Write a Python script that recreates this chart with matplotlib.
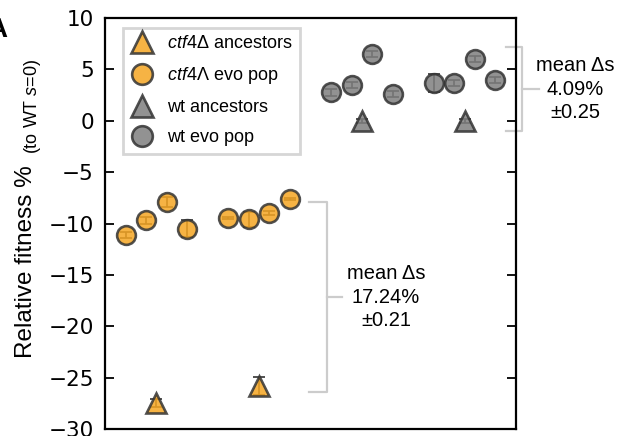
import numpy as np
import matplotlib
matplotlib.use("Agg")
import matplotlib.pyplot as plt

plt.rcParams['mathtext.fontset'] = 'custom'
plt.rcParams['mathtext.rm'] = 'Liberation Sans'
plt.rcParams['mathtext.it'] = 'Liberation Sans:italic'

# relative fitness (%) of replicate populations, two clones each, 4 pops per clone
ctf4_evo = [-11.1, -9.7, -7.9, -10.5, -9.5, -9.6, -9.0, -7.65]
ctf4_evo_err = [0.3, 0.3, 0.5, 0.8, 0.1, 0.7, 0.2, 0.1]
ctf4_anc = [-27.5, -25.8]
ctf4_anc_err = [0.4, 0.9]

wt_evo = [2.75, 3.5, 6.5, 2.6, 3.65, 3.7, 6.0, 4.0]
wt_evo_err = [0.3, 0.3, 0.3, 0.3, 0.9, 0.3, 0.3, 0.3]
wt_anc = [0.0, 0.0]
wt_anc_err = [0.2, 0.2]

mean_ds = ["17.24%", "4.09%"]
mean_ds_err = ["±0.21", "±0.25"]

orange = '#f5a623'
grey = '#7f7f7f'
edge = '#333333'

# x slots: pops 1-4 / 6-9 for ctf4, 11-14 / 16-19 for wt; ancestors centred under their pops
pop_x = np.array([1, 2, 3, 4, 6, 7, 8, 9])
anc_x = np.array([2.5, 7.5])

fig = plt.figure(figsize=(6.19, 4.36), dpi=100)
ax = fig.add_axes([105 / 619, 7 / 436, 411 / 619, 411 / 436])


def draw(x, y, err, color, marker, label, ms):
    ax.errorbar(x, y, yerr=err, fmt='none', ecolor=edge, elinewidth=1.2,
                capsize=4, capthick=1.2, zorder=2)
    ax.plot(x, y, marker, ms=ms, mfc=color, mec=edge, mew=1.9, alpha=0.85,
            label=label, zorder=3)


draw(anc_x, ctf4_anc, ctf4_anc_err, orange, '^', r'$\mathit{ctf4}$Δ ancestors', 14)
draw(pop_x, ctf4_evo, ctf4_evo_err, orange, 'o', r'$\mathit{ctf4}$Λ evo pop', 13.5)
draw(anc_x + 10, wt_anc, wt_anc_err, grey, '^', 'wt ancestors', 14)
draw(pop_x + 10, wt_evo, wt_evo_err, grey, 'o', 'wt evo pop', 13.5)

ax.set_xlim(0, 20)
ax.set_ylim(-30, 10)
ax.set_xticks([])
ax.set_yticks(np.arange(-30, 11, 5))
ax.tick_params(axis='y', direction='in', length=6.5, width=1.3, labelsize=15.5,
               pad=8, right=True)
for s in ax.spines.values():
    s.set_linewidth(1.6)

leg = ax.legend(loc='upper left', bbox_to_anchor=(0.044, 0.976), borderaxespad=0,
                numpoints=1, fancybox=False, handlelength=1.2, handletextpad=0.8,
                labelspacing=0.72, borderpad=0.42, markerscale=1.1,
                prop={'family': 'Liberation Sans', 'size': 13})
leg.get_frame().set_edgecolor('#cccccc')
leg.get_frame().set_linewidth(2)

# brackets with the mean change in fitness
brackets = [(-7.94, -26.44, 9.95, 10.81, 11.55, 13.67),
            (7.18, -1.0, 19.5, 20.3, 21.1, 22.9)]
for (top, bot, x0, x1, x2, xt), val, err in zip(brackets, mean_ds, mean_ds_err):
    mid = (top + bot) / 2
    ax.plot([x0, x1, x1, x0], [top, top, bot, bot], color='#cccccc', lw=1.6,
            clip_on=False, zorder=1)
    ax.plot([x1, x2], [mid, mid], color='#cccccc', lw=1.6, clip_on=False, zorder=1)
    ax.text(xt, mid, 'mean Δs\n' + val + '\n' + err, ha='center', va='center',
            family='Liberation Sans', fontsize=14.5, linespacing=1.3)

fig.text(32 / 619, 1 - 358 / 436, 'Relative fitness %', rotation=90,
         rotation_mode='anchor', ha='left', va='baseline',
         family='Liberation Sans', fontsize=17.5)
fig.text(37 / 619, 1 - 154 / 436, '(to WT $s$=0)', rotation=90,
         rotation_mode='anchor', ha='left', va='baseline',
         family='Liberation Sans', fontsize=13)
fig.text(7 / 619, 1 - 37 / 436, 'A', ha='right', va='baseline',
         fontsize=20, fontweight='bold', family='Liberation Sans')

fig.savefig('out.png', dpi=100)
